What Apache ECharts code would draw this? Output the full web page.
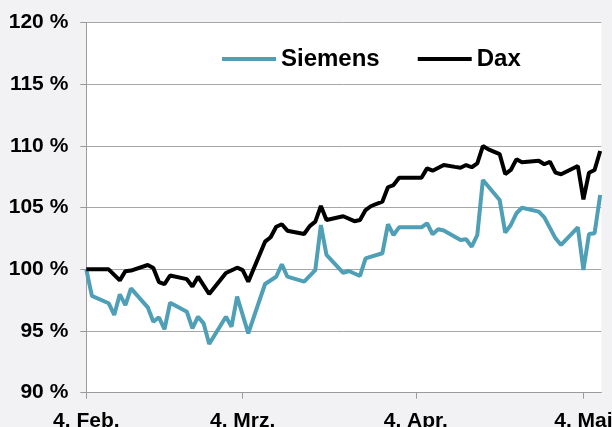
<!DOCTYPE html>
<html>
<head>
<meta charset="utf-8">
<script src="https://cdn.jsdelivr.net/npm/echarts@6/dist/echarts.min.js"></script>
<style>
html,body{margin:0;padding:0;background:#f2f2f4;}
#chart{width:612px;height:427px;}
</style>
</head>
<body>
<div id="chart"></div>
<script>
const startDate = '2013-02-04';
const tickDates = ['2013-02-04','2013-03-04','2013-04-04','2013-05-04'];
const tickLabels = ['4. Feb.','4. Mrz.','4. Apr.','4. Mai'];
const seriesNames = ['Siemens','Dax'];

const siemensDates = ['2013-02-04','2013-02-05','2013-02-08','2013-02-09','2013-02-10','2013-02-11','2013-02-12','2013-02-15','2013-02-16','2013-02-17','2013-02-18','2013-02-19','2013-02-22','2013-02-23','2013-02-24','2013-02-25','2013-02-26','2013-03-01','2013-03-02','2013-03-03','2013-03-05','2013-03-08','2013-03-10','2013-03-11','2013-03-12','2013-03-15','2013-03-17','2013-03-18','2013-03-19','2013-03-22','2013-03-23','2013-03-25','2013-03-26','2013-03-29','2013-03-30','2013-03-31','2013-04-01','2013-04-05','2013-04-06','2013-04-07','2013-04-08','2013-04-09','2013-04-12','2013-04-13','2013-04-14','2013-04-15','2013-04-16','2013-04-19','2013-04-20','2013-04-21','2013-04-22','2013-04-23','2013-04-26','2013-04-27','2013-04-29','2013-04-30','2013-05-03','2013-05-04','2013-05-05','2013-05-06','2013-05-07'];
const siemensValues = [100,97.84,97.25,96.3,97.97,97.1,98.46,96.92,95.75,96.11,95.14,97.29,96.56,95.22,96.16,95.62,93.94,96.16,95.35,97.78,94.81,98.81,99.4,100.4,99.4,99.0,99.94,103.59,101.16,99.72,99.86,99.46,100.89,101.3,103.65,102.78,103.4,103.4,103.73,102.84,103.24,103.15,102.37,102.43,101.83,102.78,107.24,105.62,102.97,103.59,104.54,104.99,104.67,104.21,102.51,101.97,103.4,99.94,102.86,102.92,106.02];

const daxDates = ['2013-02-04','2013-02-08','2013-02-10','2013-02-11','2013-02-12','2013-02-15','2013-02-16','2013-02-17','2013-02-18','2013-02-19','2013-02-22','2013-02-23','2013-02-24','2013-02-26','2013-03-01','2013-03-03','2013-03-04','2013-03-05','2013-03-08','2013-03-09','2013-03-10','2013-03-11','2013-03-12','2013-03-15','2013-03-16','2013-03-17','2013-03-18','2013-03-19','2013-03-22','2013-03-24','2013-03-25','2013-03-26','2013-03-27','2013-03-29','2013-03-30','2013-03-31','2013-04-01','2013-04-05','2013-04-06','2013-04-07','2013-04-09','2013-04-11','2013-04-12','2013-04-13','2013-04-14','2013-04-15','2013-04-16','2013-04-17','2013-04-19','2013-04-20','2013-04-21','2013-04-22','2013-04-23','2013-04-26','2013-04-27','2013-04-28','2013-04-29','2013-04-30','2013-05-03','2013-05-04','2013-05-05','2013-05-06','2013-05-07'];
const daxValues = [100.0,100.0,99.1,99.85,99.9,100.35,100.1,98.97,98.8,99.5,99.2,98.6,99.4,98.0,99.7,100.13,99.94,99.0,102.24,102.6,103.45,103.65,103.13,102.86,103.5,103.86,105.13,104.0,104.3,103.9,104.0,104.8,105.13,105.48,106.65,106.83,107.42,107.42,108.18,107.99,108.45,108.3,108.23,108.45,108.27,108.59,109.99,109.72,109.34,107.72,108.05,108.91,108.67,108.8,108.51,108.72,107.83,107.7,108.37,105.67,107.83,108.05,109.59];

const yTicks = [90,95,100,105,110,115,120];

function dayOf(s){ return (Date.parse(s) - Date.parse(startDate)) / 86400000; }
function pairs(ds, vs){ return ds.map((d,i)=>[dayOf(d), vs[i]]); }
const tickDays = tickDates.map(dayOf);
const lastDay = Math.max(dayOf(siemensDates[siemensDates.length-1]), dayOf(daxDates[daxDates.length-1]));

const chart = echarts.init(document.getElementById('chart'), null, {renderer:'canvas'});
const font = 'Liberation Sans, Arial, sans-serif';
chart.setOption({
  backgroundColor: '#f2f2f4',
  animation: false,
  grid: {left: 86.3, right: 10.7, top: 22.5, bottom: 34.3, containLabel: false, outerBoundsMode: 'none',
         show: true, backgroundColor: '#ffffff', borderWidth: 0},
  legend: {
    data: seriesNames,
    left: 217, top: 42,
    icon: 'rect', itemWidth: 54, itemHeight: 4, itemGap: 38,
    textStyle: {fontFamily: font, fontSize: 24, fontWeight: 'bold', color: '#000'}
  },
  xAxis: {
    type: 'value', min: 0, max: lastDay + 0.2,
    axisLine: {show: true, lineStyle: {color: '#9a9a9a', width: 1}},
    axisTick: {show: true, length: 6, lineStyle: {color: '#9a9a9a'}, customValues: tickDays},
    axisLabel: {
      customValues: tickDays, margin: 18, hideOverlap: false,
      fontFamily: font, fontSize: 21, fontWeight: 'bold', color: '#000',
      formatter: v => { const i = tickDays.indexOf(v); return i >= 0 ? tickLabels[i] : ''; }
    },
    splitLine: {show: false}
  },
  yAxis: {
    type: 'value', min: yTicks[0], max: yTicks[yTicks.length-1], interval: 5,
    axisLine: {show: true, lineStyle: {color: '#9a9a9a', width: 1}},
    axisTick: {show: true, length: 6, lineStyle: {color: '#9a9a9a'}},
    axisLabel: {margin: 18, fontFamily: font, fontSize: 21, fontWeight: 'bold', color: '#000', formatter: '{value} %'},
    splitLine: {show: true, lineStyle: {color: '#a6a6a6', width: 1}}
  },
  series: [
    {name: seriesNames[0], type: 'line', data: pairs(siemensDates, siemensValues), showSymbol: false, symbol: 'none',
     lineStyle: {color: '#4f9fb6', width: 4}, itemStyle: {color: '#4f9fb6'}},
    {name: seriesNames[1], type: 'line', data: pairs(daxDates, daxValues), showSymbol: false, symbol: 'none',
     lineStyle: {color: '#000000', width: 4}, itemStyle: {color: '#000000'}}
  ]
});
</script>
</body>
</html>
